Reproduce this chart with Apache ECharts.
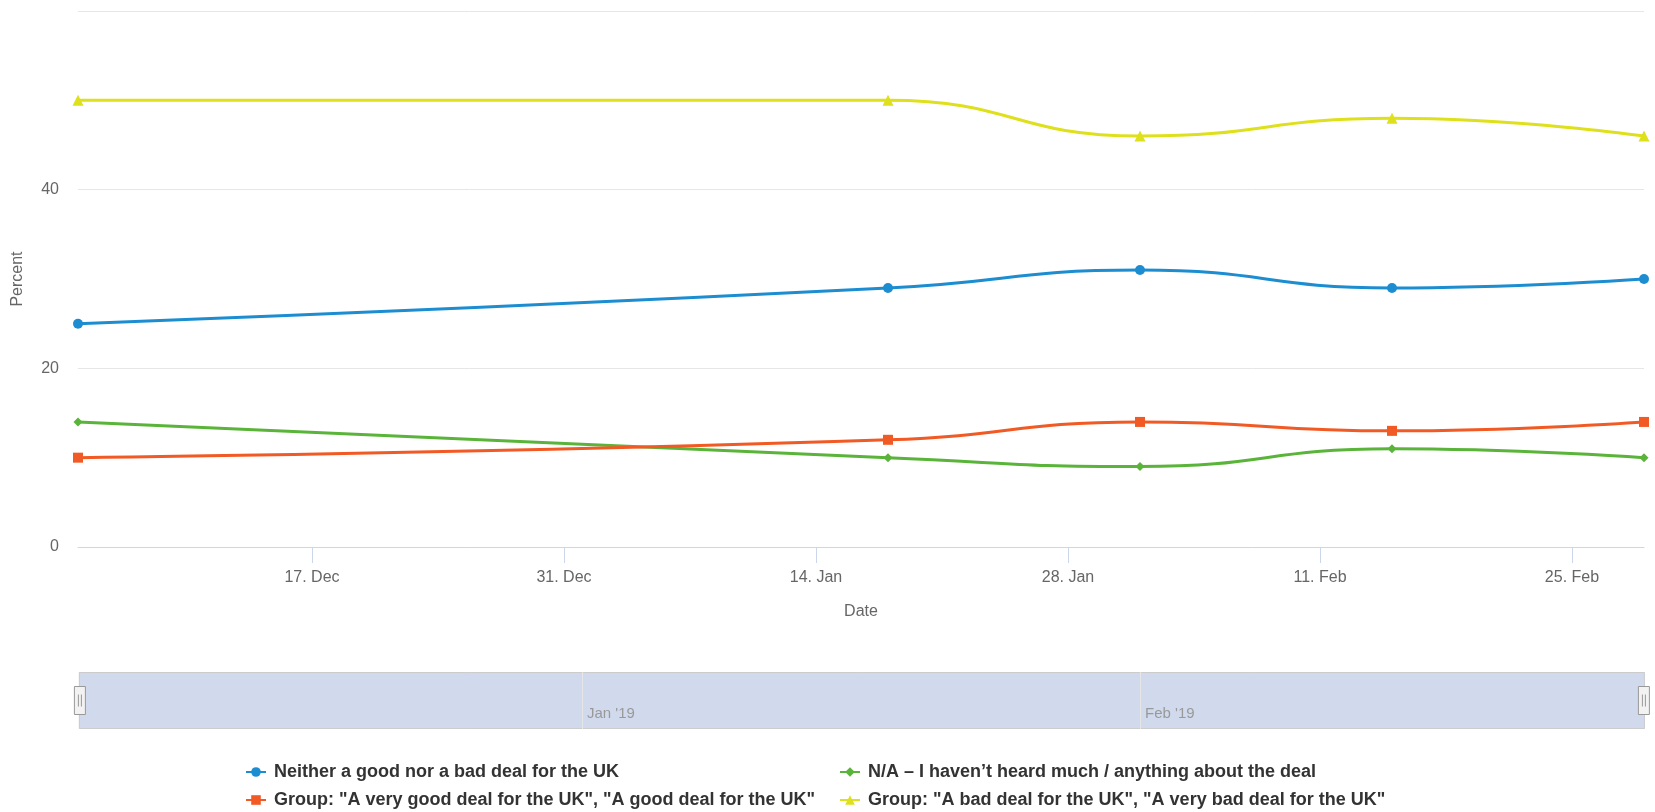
<!DOCTYPE html>
<html>
<head>
<meta charset="utf-8">
<script src="https://cdn.jsdelivr.net/npm/echarts@6/dist/echarts.min.js"></script>
<style>
html,body{margin:0;padding:0;background:#fff;}
#chart{width:1655px;height:812px;}
</style>
</head>
<body>
<div id="chart"></div>
<script>
// ---- data ----
var dates = ['2018-12-04', '2019-01-18', '2019-02-01', '2019-02-15', '2019-03-01'];
var seriesNames = [
  'Neither a good nor a bad deal for the UK',
  'N/A \u2013 I haven\u2019t heard much / anything about the deal',
  'Group: "A very good deal for the UK", "A good deal for the UK"',
  'Group: "A bad deal for the UK", "A very bad deal for the UK"'
];
var neitherValues = [25, 29, 31, 29, 30];
var naValues = [14, 10, 9, 11, 10];
var goodValues = [10, 12, 14, 13, 14];
var badValues = [50, 50, 46, 48, 46];
var xTickDates = ['2018-12-17', '2018-12-31', '2019-01-14', '2019-01-28', '2019-02-11', '2019-02-25'];
var navTickDates = ['2019-01-01', '2019-02-01'];
var xMinDate = '2018-12-04';
var xMaxDate = '2019-03-01';
var yTicks = [0, 20, 40, 60];

var monthNames = ['Jan','Feb','Mar','Apr','May','Jun','Jul','Aug','Sep','Oct','Nov','Dec'];
function ts(s){ return Date.parse(s); }
function pairs(vals){ return vals.map(function(v,i){ return [ts(dates[i]), v]; }); }

var FONT = "'Liberation Sans', Arial, sans-serif";
var colors = ['#1d8dd1', '#5ab43a', '#f15a24', '#dfe01c'];
var symbols = ['circle', 'diamond', 'rect', 'triangle'];
var symbolSizes = [10, 9, 10, 11];
var valueSets = [neitherValues, naValues, goodValues, badValues];

var series = valueSets.map(function(vals, i){
  return {
    name: seriesNames[i],
    type: 'line',
    xAxisIndex: 0, yAxisIndex: 0,
    data: pairs(vals),
    smooth: 0.5,
    symbol: symbols[i],
    symbolSize: symbolSizes[i],
    showAllSymbol: true,
    lineStyle: { width: 3, color: colors[i] },
    itemStyle: { color: colors[i] },
    z: 3 + i
  };
});

var legendText = { color: '#333333', fontSize: 18, fontWeight: 'bold', fontFamily: FONT, padding: [0,0,0,3] };

var chart = echarts.init(document.getElementById('chart'), null, {renderer: 'canvas'});
chart.setOption({
  animation: false,
  backgroundColor: '#ffffff',
  textStyle: { fontFamily: FONT },
  color: colors,
  grid: [
    { left: 78, right: 11, top: 11, bottom: 265, containLabel: false },
    { left: 78, right: 11, top: 672, height: 57, containLabel: false }
  ],
  xAxis: [
    {
      type: 'value', gridIndex: 0,
      min: ts(xMinDate), max: ts(xMaxDate),
      name: 'Date', nameLocation: 'middle', nameGap: 57,
      nameTextStyle: { color: '#666666', fontSize: 16, fontFamily: FONT },
      axisLine: { show: true, lineStyle: { color: '#ccd6eb', width: 1 } },
      axisTick: { show: true, length: 16, lineStyle: { color: '#ccd6eb' },
                  customValues: xTickDates.map(ts) },
      axisLabel: {
        color: '#666666', fontSize: 16, fontFamily: FONT, margin: 23,
        customValues: xTickDates.map(ts),
        formatter: function(v){ var d = new Date(v); return d.getUTCDate() + '. ' + monthNames[d.getUTCMonth()]; }
      },
      splitLine: { show: false }
    },
    {
      type: 'value', gridIndex: 1,
      min: ts(xMinDate), max: ts(xMaxDate),
      axisLine: { show: false },
      axisTick: { show: true, inside: true, length: 57, lineStyle: { color: '#e6e6e6' },
                  customValues: navTickDates.map(ts) },
      axisLabel: {
        inside: true, margin: 8, align: 'left', padding: [0,0,0,5],
        color: '#999999', fontSize: 15, fontFamily: FONT,
        customValues: navTickDates.map(ts),
        formatter: function(v){ var d = new Date(v); return monthNames[d.getUTCMonth()] + " '" + String(d.getUTCFullYear()).slice(2); }
      },
      splitLine: { show: false },
      z: 10
    }
  ],
  yAxis: [
    {
      type: 'value', gridIndex: 0,
      min: yTicks[0], max: yTicks[yTicks.length-1], interval: 20,
      name: 'Percent', nameLocation: 'middle', nameGap: 52, nameRotate: 90,
      nameTextStyle: { color: '#666666', fontSize: 16, fontFamily: FONT },
      axisLine: { show: false }, axisTick: { show: false },
      axisLabel: { color: '#666666', fontSize: 16, fontFamily: FONT, margin: 19, showMaxLabel: false },
      splitLine: { show: true, lineStyle: { color: '#e6e6e6', width: 1 } }
    },
    {
      type: 'value', gridIndex: 1, min: 0, max: 1, show: false
    }
  ],
  dataZoom: [
    {
      type: 'slider', xAxisIndex: 0, filterMode: 'none',
      start: 0, end: 100,
      left: 78, right: 11, top: 672, height: 57,
      backgroundColor: 'rgba(255,255,255,0)',
      borderColor: '#cccccc',
      fillerColor: 'rgba(102,133,194,0.3)',
      showDataShadow: false, showDetail: false,
      brushSelect: false, moveHandleSize: 0,
      handleIcon: 'path://M0,0 L11,0 L11,28 L0,28 Z M4,8 L4,20 M7,8 L7,20',
      handleSize: 28,
      handleStyle: { color: '#f2f2f2', borderColor: '#999999', borderWidth: 1 },
      dataBackground: { lineStyle: { opacity: 0 }, areaStyle: { opacity: 0 } },
      selectedDataBackground: { lineStyle: { opacity: 0 }, areaStyle: { opacity: 0 } }
    }
  ],
  legend: [
    {
      data: [seriesNames[0], seriesNames[2]],
      orient: 'vertical', left: 240, top: 758, height: 80, width: 590, padding: 5,
      itemWidth: 20, itemHeight: 12, itemGap: 10,
      textStyle: legendText
    },
    {
      data: [seriesNames[1], seriesNames[3]],
      orient: 'vertical', left: 834, top: 758, height: 80, width: 600, padding: 5,
      itemWidth: 20, itemHeight: 12, itemGap: 10,
      textStyle: legendText
    }
  ],
  series: series
});
</script>
</body>
</html>
